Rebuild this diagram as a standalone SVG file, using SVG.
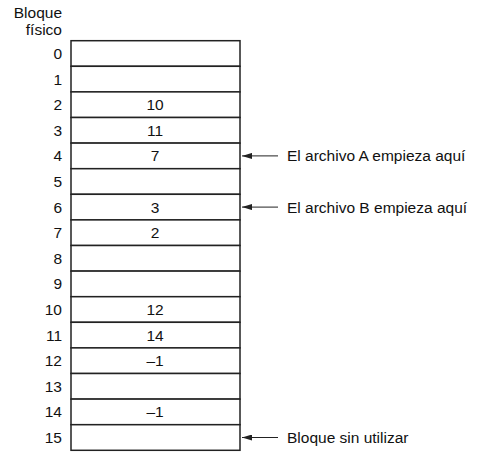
<svg xmlns="http://www.w3.org/2000/svg" width="502" height="462" viewBox="0 0 502 462">
<style>
text{font-family:"Liberation Sans",Arial,sans-serif;font-size:15.5px;fill:#111}
.n{text-anchor:end}
.v{text-anchor:middle}
.cell{fill:#fff;stroke:#222;stroke-width:1.5}
.conn{stroke:#222;stroke-width:1;fill:none;marker-end:url(#ah)}
</style>
<defs>
<marker id="ah" viewBox="0 0 10 6" refX="10" refY="3" markerWidth="10" markerHeight="6" markerUnits="userSpaceOnUse" orient="auto">
<path d="M0,0 L10,3 L0,6 Z" fill="#222"/>
</marker>
</defs>
<g id="header">
<text class="n" x="62" y="17.5">Bloque</text>
<text class="n" x="62" y="34.5">físico</text>
</g>
<g id="table">
<g id="b0"><rect class="cell" x="71" y="40.7" width="169" height="25.6"/><text class="n" x="62" y="59">0</text></g>
<g id="b1"><rect class="cell" x="71" y="66.3" width="169" height="25.6"/><text class="n" x="62" y="84.6">1</text></g>
<g id="b2"><rect class="cell" x="71" y="91.9" width="169" height="25.6"/><text class="n" x="62" y="110.2">2</text><text class="v" x="155" y="110.2">10</text></g>
<g id="b3"><rect class="cell" x="71" y="117.5" width="169" height="25.6"/><text class="n" x="62" y="135.8">3</text><text class="v" x="155" y="135.8">11</text></g>
<g id="b4"><rect class="cell" x="71" y="143.1" width="169" height="25.6"/><text class="n" x="62" y="161.4">4</text><text class="v" x="155" y="161.4">7</text></g>
<g id="b5"><rect class="cell" x="71" y="168.7" width="169" height="25.6"/><text class="n" x="62" y="187">5</text></g>
<g id="b6"><rect class="cell" x="71" y="194.3" width="169" height="25.6"/><text class="n" x="62" y="212.6">6</text><text class="v" x="155" y="212.6">3</text></g>
<g id="b7"><rect class="cell" x="71" y="219.9" width="169" height="25.6"/><text class="n" x="62" y="238.2">7</text><text class="v" x="155" y="238.2">2</text></g>
<g id="b8"><rect class="cell" x="71" y="245.5" width="169" height="25.6"/><text class="n" x="62" y="263.8">8</text></g>
<g id="b9"><rect class="cell" x="71" y="271.1" width="169" height="25.6"/><text class="n" x="62" y="289.4">9</text></g>
<g id="b10"><rect class="cell" x="71" y="296.7" width="169" height="25.6"/><text class="n" x="62" y="315">10</text><text class="v" x="155" y="315">12</text></g>
<g id="b11"><rect class="cell" x="71" y="322.3" width="169" height="25.6"/><text class="n" x="62" y="340.6">11</text><text class="v" x="155" y="340.6">14</text></g>
<g id="b12"><rect class="cell" x="71" y="347.9" width="169" height="25.6"/><text class="n" x="62" y="366.2">12</text><text class="v" x="155" y="366.2">–1</text></g>
<g id="b13"><rect class="cell" x="71" y="373.5" width="169" height="25.6"/><text class="n" x="62" y="391.8">13</text></g>
<g id="b14"><rect class="cell" x="71" y="399.1" width="169" height="25.6"/><text class="n" x="62" y="417.4">14</text><text class="v" x="155" y="417.4">–1</text></g>
<g id="b15"><rect class="cell" x="71" y="424.7" width="169" height="25.6"/><text class="n" x="62" y="443">15</text></g>
</g>
<g id="connectors">
<line class="conn" x1="278" y1="155.9" x2="242" y2="155.9"/>
<line class="conn" x1="278" y1="207.1" x2="242" y2="207.1"/>
<line class="conn" x1="278" y1="437.5" x2="242" y2="437.5"/>
</g>
<g id="labels">
<text x="287" y="161.3">El archivo A empieza aquí</text>
<text x="287" y="212.5">El archivo B empieza aquí</text>
<text x="287" y="442.9">Bloque sin utilizar</text>
</g>
</svg>
